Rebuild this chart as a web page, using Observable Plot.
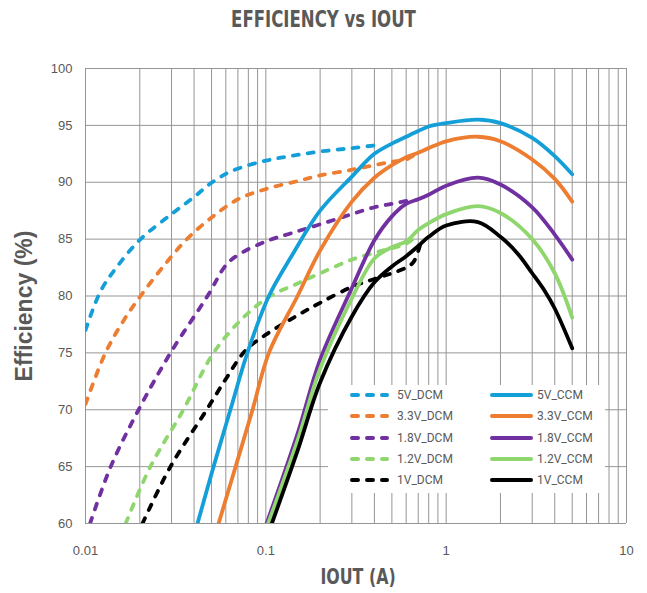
<!DOCTYPE html>
<html><head><meta charset="utf-8">
<script src="https://cdn.jsdelivr.net/npm/d3@7"></script>
<script src="https://cdn.jsdelivr.net/npm/@observablehq/plot@0.6"></script>
<style>
body{margin:0;background:#fff;}
#wrap{position:relative;width:647px;height:593px;overflow:hidden;background:#fff;}
#title{height:40px;box-sizing:border-box;padding-top:8px;text-align:center;font:bold 23px/23px "Liberation Sans Narrow","DejaVu Sans Condensed",sans-serif;color:#595959;}
#title span,#xlab span{display:inline-block;transform:scaleX(0.8);transform-origin:center;}
#xlab{position:absolute;left:258px;width:200px;top:566px;text-align:center;font:bold 22px/22px "Liberation Sans Narrow","DejaVu Sans Condensed",sans-serif;color:#595959;}
#legend{position:absolute;left:328px;top:385px;width:277px;height:108px;background:#fff;}
.item{position:absolute;height:20px;display:flex;align-items:center;font:12px Roboto,sans-serif;color:#595959;white-space:nowrap;}
</style></head><body>
<div id="wrap"><div id="title"><span></span></div><div id="chart"></div><div id="xlab"><span></span></div><div id="legend"></div></div>
<script>
const titleText = "EFFICIENCY vs IOUT";
const xLabel = "IOUT (A)";
const yLabel = "Efficiency (%)";
const xTickValues = [0.01, 0.1, 1, 10];
const yTickValues = [60, 65, 70, 75, 80, 85, 90, 95, 100];

// 5V
const i5vDcm = [0.01, 0.0121, 0.015, 0.0202, 0.03, 0.04, 0.0494, 0.065, 0.1, 0.137, 0.2, 0.3, 0.43];
const e5vDcm = [77.0, 80.4, 82.6, 85.0, 87.2, 88.7, 89.9, 91.0, 91.9, 92.3, 92.7, 93.0, 93.3];
const i5vCcm = [0.0418, 0.0513, 0.0636, 0.079, 0.104, 0.14, 0.2, 0.3, 0.4, 0.5, 0.6, 0.7, 0.8, 1, 1.5, 2, 3, 4, 5];
const e5vCcm = [60, 65, 70, 75, 80, 83.6, 87.5, 90.5, 92.5, 93.4, 94.0, 94.5, 94.9, 95.2, 95.5, 95.2, 93.9, 92.3, 90.7];
// 3.3V
const i33Dcm = [0.01, 0.0129, 0.0165, 0.0202, 0.027, 0.0365, 0.05, 0.07, 0.1, 0.15, 0.2, 0.3, 0.4, 0.5, 0.6, 0.68];
const e33Dcm = [70.5, 75, 78, 80, 82.6, 85, 86.9, 88.5, 89.4, 90.1, 90.6, 91.1, 91.5, 91.8, 92.0, 92.5];
const i33Ccm = [0.0547, 0.068, 0.0844, 0.104, 0.15, 0.2, 0.3, 0.4, 0.5, 0.6, 0.7, 0.8, 1, 1.5, 2, 3, 4, 5];
const e33Ccm = [60, 65, 70, 75, 80, 84.0, 88.3, 90.4, 91.5, 92.2, 92.6, 93.0, 93.6, 94.0, 93.6, 92.0, 90.3, 88.3];
// 1.8V
const i18Dcm = [0.0106, 0.0138, 0.0197, 0.0296, 0.0475, 0.06, 0.07, 0.1, 0.137, 0.2, 0.3, 0.4, 0.5, 0.62];
const e18Dcm = [60, 65, 70, 75, 80, 82.7, 83.6, 84.8, 85.5, 86.3, 87.2, 87.8, 88.1, 88.4];
const i18Ccm = [0.101, 0.15, 0.2, 0.3, 0.4, 0.5, 0.6, 0.7, 0.8, 1, 1.5, 2, 3, 4, 5];
const e18Ccm = [60, 67.9, 74.4, 80.7, 84.9, 87.0, 88.1, 88.5, 88.9, 89.7, 90.4, 89.8, 87.8, 85.4, 83.2];
// 1.2V
const i12Dcm = [0.0167, 0.0229, 0.0349, 0.0513, 0.075, 0.106, 0.15, 0.2, 0.3, 0.4, 0.5, 0.6, 0.7];
const e12Dcm = [60, 65, 70, 75, 78.1, 80, 81.1, 82.0, 83.2, 83.8, 84.2, 84.6, 85.4];
const i12Ccm = [0.103, 0.15, 0.2, 0.3, 0.4, 0.5, 0.6, 0.7, 0.8, 1, 1.5, 2, 3, 4, 5];
const e12Ccm = [60, 67.3, 73.6, 79.8, 83.3, 84.3, 84.8, 85.8, 86.4, 87.2, 87.9, 87.3, 85.0, 82.0, 78.1];
// 1V
const i1Dcm = [0.0207, 0.0296, 0.047, 0.06, 0.077, 0.1, 0.15, 0.2, 0.3, 0.4, 0.5, 0.6, 0.66, 0.72];
const e1Dcm = [60, 65, 70, 72.7, 75.2, 76.6, 78.3, 79.4, 80.8, 81.5, 82.0, 82.5, 83.0, 84.6];
const i1Ccm = [0.108, 0.15, 0.2, 0.3, 0.4, 0.5, 0.6, 0.7, 0.8, 1, 1.5, 2, 2.5, 3, 3.5, 4, 5];
const e1Ccm = [60, 66.4, 72.4, 78.2, 81.2, 82.6, 83.5, 84.4, 85.2, 86.2, 86.5, 85.2, 83.7, 82.0, 80.5, 78.9, 75.4];

const seriesNames = ["5V_DCM","3.3V_DCM","1.8V_DCM","1.2V_DCM","1V_DCM","5V_CCM","3.3V_CCM","1.8V_CCM","1.2V_CCM","1V_CCM"];
const seriesColors = ["#159fd8","#ed7d31","#7030a0","#8fd66e","#000000","#159fd8","#ed7d31","#7030a0","#8fd66e","#000000"];
const seriesI = [i5vDcm, i33Dcm, i18Dcm, i12Dcm, i1Dcm, i5vCcm, i33Ccm, i18Ccm, i12Ccm, i1Ccm];
const seriesE = [e5vDcm, e33Dcm, e18Dcm, e12Dcm, e1Dcm, e5vCcm, e33Ccm, e18Ccm, e12Ccm, e1Ccm];

const DASH = "6,9";
const series = seriesNames.map((name, k) => ({
  name, color: seriesColors[k], dashed: name.endsWith("DCM"),
  data: seriesI[k].map((v, j) => ({i: v, e: seriesE[k][j]}))
}));

document.querySelector("#title span").textContent = titleText;
document.querySelector("#xlab span").textContent = xLabel;

const xGrid = d3.scaleLog().domain([0.01, 10]).ticks();
const gridColor = "#959595";

const lineMarks = series.map(s => Plot.line(s.data, {
  x: "i", y: "e", stroke: s.color, strokeWidth: 3.8,
  strokeDasharray: s.dashed ? DASH : null, strokeLinecap: "round", strokeLinejoin: "round",
  curve: "catmull-rom", clip: true
}));

const chart = Plot.plot({
  width: 647, height: 553,
  marginTop: 28, marginBottom: 70, marginLeft: 85, marginRight: 21,
  style: {background: "#fff", color: "#595959", fontFamily: "'Liberation Sans', Arial, sans-serif", fontSize: "13px"},
  x: {type: "log", domain: [0.01, 10], ticks: xTickValues, tickFormat: d => String(d), tickSize: 0, tickPadding: 22, label: null},
  y: {domain: [60, 100], ticks: yTickValues, tickSize: 0, tickPadding: 13, label: null},
  marks: [
    Plot.ruleX(xGrid, {stroke: gridColor, strokeWidth: 1}),
    Plot.ruleY(yTickValues, {stroke: gridColor, strokeWidth: 1}),
    ...lineMarks,
    Plot.text([yLabel], {text: d => d, frameAnchor: "left", textAnchor: "middle", dx: -61, dy: 10, rotate: -90,
      fontSize: 23, fontWeight: "bold", fill: "#595959", fontFamily: "'Liberation Sans', Arial, sans-serif"})
  ]
});
document.getElementById("chart").appendChild(chart);

// legend
const legend = document.getElementById("legend");
const rowCenters = [10, 31, 53, 74, 95];
series.forEach((s, k) => {
  const col = s.dashed ? 0 : 1;
  const row = k % 5;
  const item = document.createElement("div");
  item.className = "item";
  item.style.left = (col === 0 ? 20 : 160) + "px";
  item.style.top = (rowCenters[row] - 10) + "px";
  const w = col === 0 ? 44 : 47;
  const x2 = col === 0 ? 39 : 43;
  item.innerHTML = `<svg width="${w}" height="20"><line x1="4" x2="${x2}" y1="10" y2="10" stroke="${s.color}" stroke-width="4" stroke-linecap="round" ${s.dashed ? `stroke-dasharray="${DASH}"` : ""}/></svg><span style="margin-left:${col === 0 ? 5 : 2}px">${s.name}</span>`;
  legend.appendChild(item);
});
</script>
</body></html>
